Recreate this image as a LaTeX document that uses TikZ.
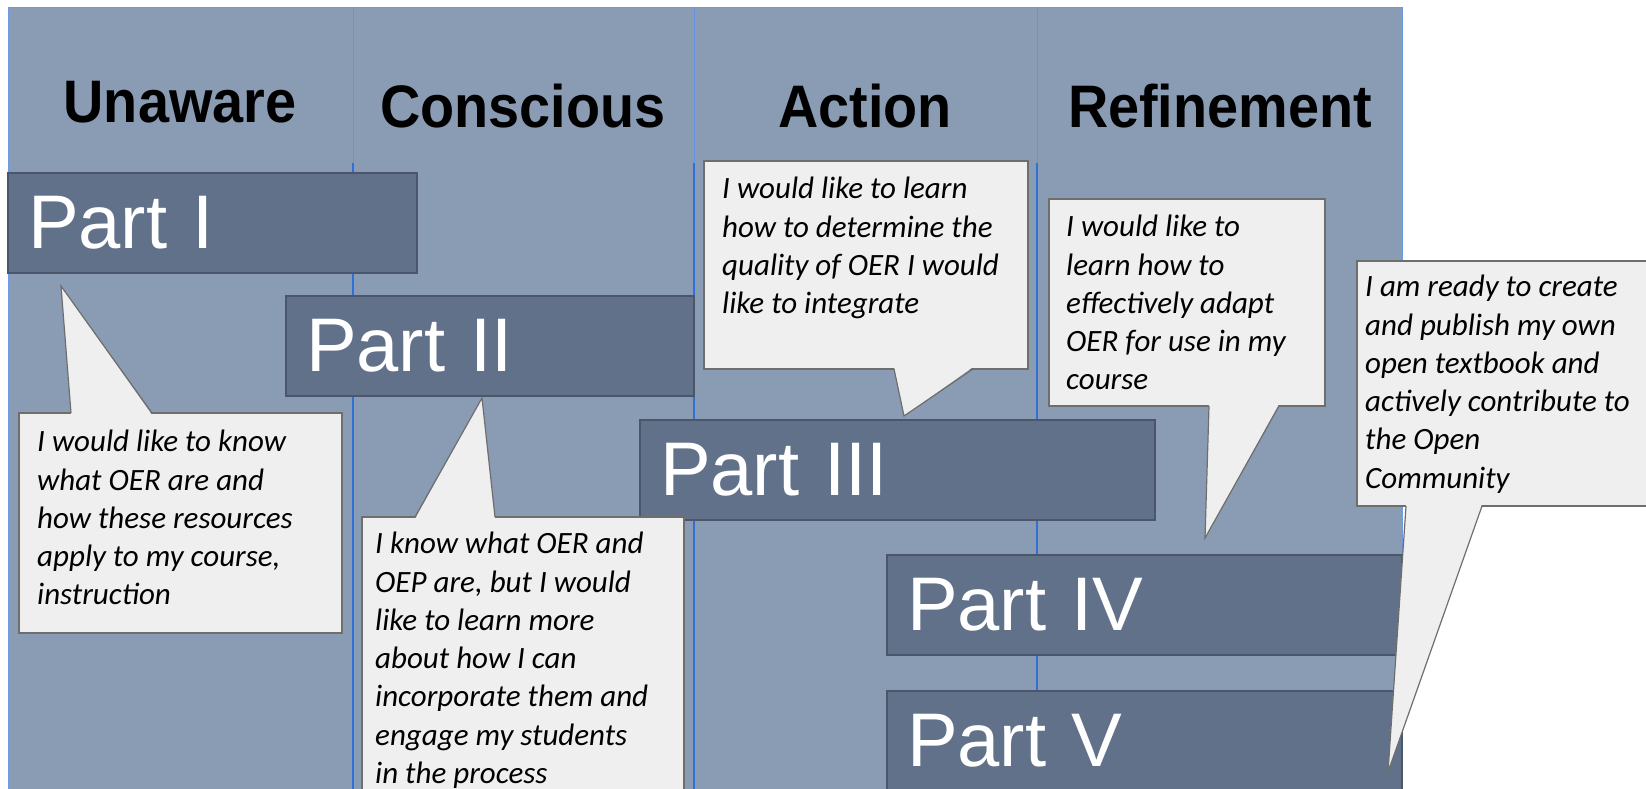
\documentclass[tikz,border=0pt]{standalone}
\usepackage{fontspec}
\usepackage{xcolor}
\setmainfont{Liberation Sans}
\newfontfamily\headfont{Liberation Sans}[FakeStretch=0.93]
\newfontfamily\notefont{Carlito}
\definecolor{panel}{HTML}{8A9BB4}
\definecolor{partbg}{HTML}{62718A}
\definecolor{partline}{HTML}{4B566B}
\definecolor{notebg}{HTML}{EFEFEF}
\definecolor{noteline}{HTML}{6E6E6E}
\definecolor{gridblue}{HTML}{2F6FD8}

\begin{document}
\begin{tikzpicture}[x=1pt,y=-1pt,
 head/.style={font=\headfont\bfseries\fontsize{60}{60}\selectfont,anchor=base,inner sep=0pt},
 part/.style={draw=partline,line width=1.5pt,fill=partbg,text=white,font=\fontsize{76}{76}\selectfont,
  anchor=north west,outer sep=0pt,minimum height=100pt,inner xsep=20pt,inner ysep=0pt,align=left,text width=#1},
 note/.style={draw=noteline,line width=1.2pt,fill=notebg,outer sep=0pt,inner sep=0pt},
 say/.style={font=\notefont\itshape\fontsize{31}{38.3}\selectfont,anchor=north west,inner sep=0pt,align=left},
 tail/.style={draw=noteline,line width=1.2pt,line join=miter}]
\useasboundingbox (0,0) rectangle (1646,789);
\clip (0,0) rectangle (1646,789);
\fill[white] (0,0) rectangle (1646,789);
\fill[panel] (8,7) rectangle (1402,800);
\draw[gridblue!70,line width=0.6pt] (8,800) -- (8,7) -- (1402,7) -- (1402,800);
\draw[gridblue!75,line width=0.6pt]
(353,7) -- (353,163)
(694,7) -- (694,163)
(1037,7) -- (1037,163);
\draw[gridblue,line width=1.3pt]
(353,163) -- (353,800)
(694,163) -- (694,800)
(1037,163) -- (1037,800);
\node[head] (h1) at (180,123) {Unaware};
\node[head] (h2) at (523,128) {Conscious};
\node[head] (h3) at (865,128) {Action};
\node[head] (h4) at (1220,128) {Refinement};
\node[part=369pt] (p1) at (8,173) {Part I};
\node[part=368pt] (p2) at (286,296) {Part II};
\node[part=475pt] (p3) at (640,420) {Part III};
\node[part=475pt] (p4) at (887,555) {Part IV};
\node[part=475pt] (p5) at (887,691) {Part V};
\coordinate (tip1) at ([shift={(53,13)}]p1.south west);
\coordinate (tip2) at ([shift={(196,2)}]p2.south west);
\coordinate (tip3) at ([shift={(264,-4)}]p3.north west);
\coordinate (tip4) at ([shift={(318,-17)}]p4.north west);
\coordinate (tip5) at ([shift={(501,81)}]p5.north west);
\node[note,anchor=north west,minimum width=323pt,minimum height=220pt] (c1) at (19,413) {};
\fill[notebg] ([shift={(52,2)}]c1.north west) -- (tip1) -- ([shift={(133,2)}]c1.north west) -- cycle;
\draw[tail] ([shift={(52,0)}]c1.north west) -- (tip1) -- ([shift={(133,0)}]c1.north west);
\node[say] (t1) at ([shift={(18,17)}]c1.north west) {I would like to know\\what OER are and\\how these resources\\apply to my course,\\instruction};
\node[note,anchor=north west,minimum width=322pt,minimum height=320pt] (c2) at (362,517) {};
\fill[notebg] ([shift={(53,2)}]c2.north west) -- (tip2) -- ([shift={(133,2)}]c2.north west) -- cycle;
\draw[tail] ([shift={(53,0)}]c2.north west) -- (tip2) -- ([shift={(133,0)}]c2.north west);
\node[say] (t2) at ([shift={(13,15)}]c2.north west) {I know what OER and\\OEP are, but I would\\like to learn more\\about how I can\\incorporate them and\\engage my students\\in the process};
\node[note,anchor=north west,minimum width=324pt,minimum height=208pt] (c3) at (704,161) {};
\fill[notebg] ([shift={(190,-2)}]c3.south west) -- (tip3) -- ([shift={(269,-2)}]c3.south west) -- cycle;
\draw[tail] ([shift={(190,0)}]c3.south west) -- (tip3) -- ([shift={(269,0)}]c3.south west);
\node[say] (t3) at ([shift={(18,16)}]c3.north west) {I would like to learn\\how to determine the\\quality of OER I would\\like to integrate};
\node[note,anchor=north west,minimum width=276pt,minimum height=207pt] (c4) at (1049,199) {};
\fill[notebg] ([shift={(160,-2)}]c4.south west) -- (tip4) -- ([shift={(230,-2)}]c4.south west) -- cycle;
\draw[tail] ([shift={(160,0)}]c4.south west) -- (tip4) -- ([shift={(230,0)}]c4.south west);
\node[say] (t4) at ([shift={(17,16)}]c4.north west) {I would like to\\learn how to\\effectively adapt\\OER for use in my\\course};
\node[note,anchor=north west,minimum width=320pt,minimum height=245pt] (c5) at (1357,261) {};
\fill[notebg] ([shift={(49,-2)}]c5.south west) -- (tip5) -- ([shift={(125,-2)}]c5.south west) -- cycle;
\draw[tail] ([shift={(49,0)}]c5.south west) -- (tip5) -- ([shift={(125,0)}]c5.south west);
\node[say] (t5) at ([shift={(8,14)}]c5.north west) {I am ready to create\\and publish my own\\open textbook and\\actively contribute to\\the Open\\Community};
\end{tikzpicture}
\end{document}
